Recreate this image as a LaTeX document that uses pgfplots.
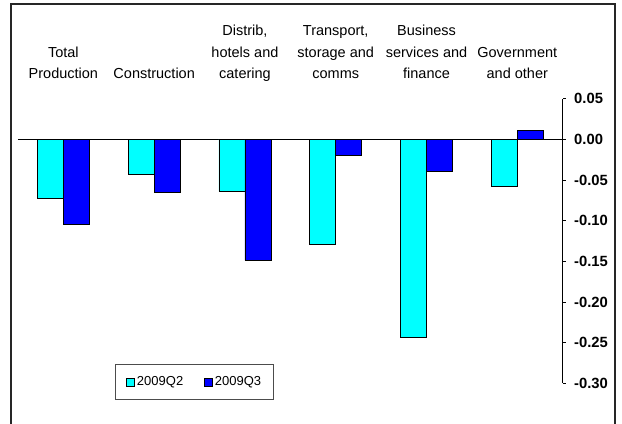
\documentclass[border=0pt]{standalone}
\usepackage{fontspec}
\setmainfont{Liberation Sans}
\usepackage{pgfplots}
\pgfplotsset{compat=1.18}
\definecolor{qtwo}{RGB}{0,255,255}
\definecolor{qthree}{RGB}{0,0,255}
\newcommand\lblfont{\fontsize{14.5bp}{21.5bp}\selectfont}
\newcommand\tickfont{\fontsize{14.8bp}{18bp}\selectfont\bfseries}
\newcommand\legfont{\fontsize{13bp}{15bp}\selectfont}
\pgfplotsset{sqlegend/.style={legend image code/.code={\draw[##1, line width=0.6bp] (0bp,-4bp) rectangle (8bp,4bp);}}}
\begin{document}
\begin{tikzpicture}
\useasboundingbox (-18bp,-40.7bp) rectangle (604bp,383.3bp);
\draw[line width=1.5bp, black!85] (-7bp,-60bp) -- (-7bp,379.3bp) -- (597bp,379.3bp) -- (597bp,-60bp);
\begin{axis}[
  at={(0,0)}, anchor=south west, scale only axis,
  x=90.78bp, y=813.4bp,
  xmin=-0.5, xmax=5.5, ymin=-0.30, ymax=0.05,
  axis x line*=top, axis y line*=right,
  x axis line style={draw=none},
  y axis line style={black, line width=0.8bp, -},
  xtick={0,1,2,3,4,5},
  xticklabels={{Total\\Production\strut},{Construction\strut},{Distrib,\\hotels and\\catering\strut},{Transport,\\storage and\\comms\strut},{Business\\services and\\finance\strut},{Government\\and other\strut}},
  xtick style={draw=none},
  xticklabel style={anchor=south, align=center, inner sep=0pt, yshift=9.8bp, font=\lblfont},
  ytick={-0.30,-0.25,-0.20,-0.15,-0.10,-0.05,0,0.05},
  yticklabels={\textbf{-0.30},\textbf{-0.25},\textbf{-0.20},\textbf{-0.15},\textbf{-0.10},\textbf{-0.05},\textbf{0.00},\textbf{0.05}},
  ytick style={black, line width=0.8bp},
  tick align=outside, major tick length=3.3bp,
  yticklabel style={anchor=west, inner sep=0pt, xshift=8bp, font=\tickfont},
  extra y ticks={0}, extra y tick labels={},
  extra y tick style={grid=major, major grid style={black, line width=0.8bp}},
  ybar=0pt, bar width=26bp,
  clip=false,
  legend columns=2,
  legend style={at={(axis description cs:0.1790,-0.0576)}, anchor=south west,
    draw=black!70, line width=0.8bp, font=\legfont,
    inner xsep=10.5bp, inner ysep=10bp,
    /tikz/every even column/.append style={column sep=19bp}},
]
\addplot[fill=qtwo, draw=black, line width=0.6bp, sqlegend]
  coordinates {(0,-0.072) (1,-0.043) (2,-0.064) (3,-0.129) (4,-0.243) (5,-0.058)};
\addplot[fill=qthree, draw=black, line width=0.6bp, sqlegend]
  coordinates {(0,-0.104) (1,-0.065) (2,-0.149) (3,-0.020) (4,-0.039) (5,0.011)};
\legend{2009Q2,2009Q3}
\end{axis}
\end{tikzpicture}
\end{document}
